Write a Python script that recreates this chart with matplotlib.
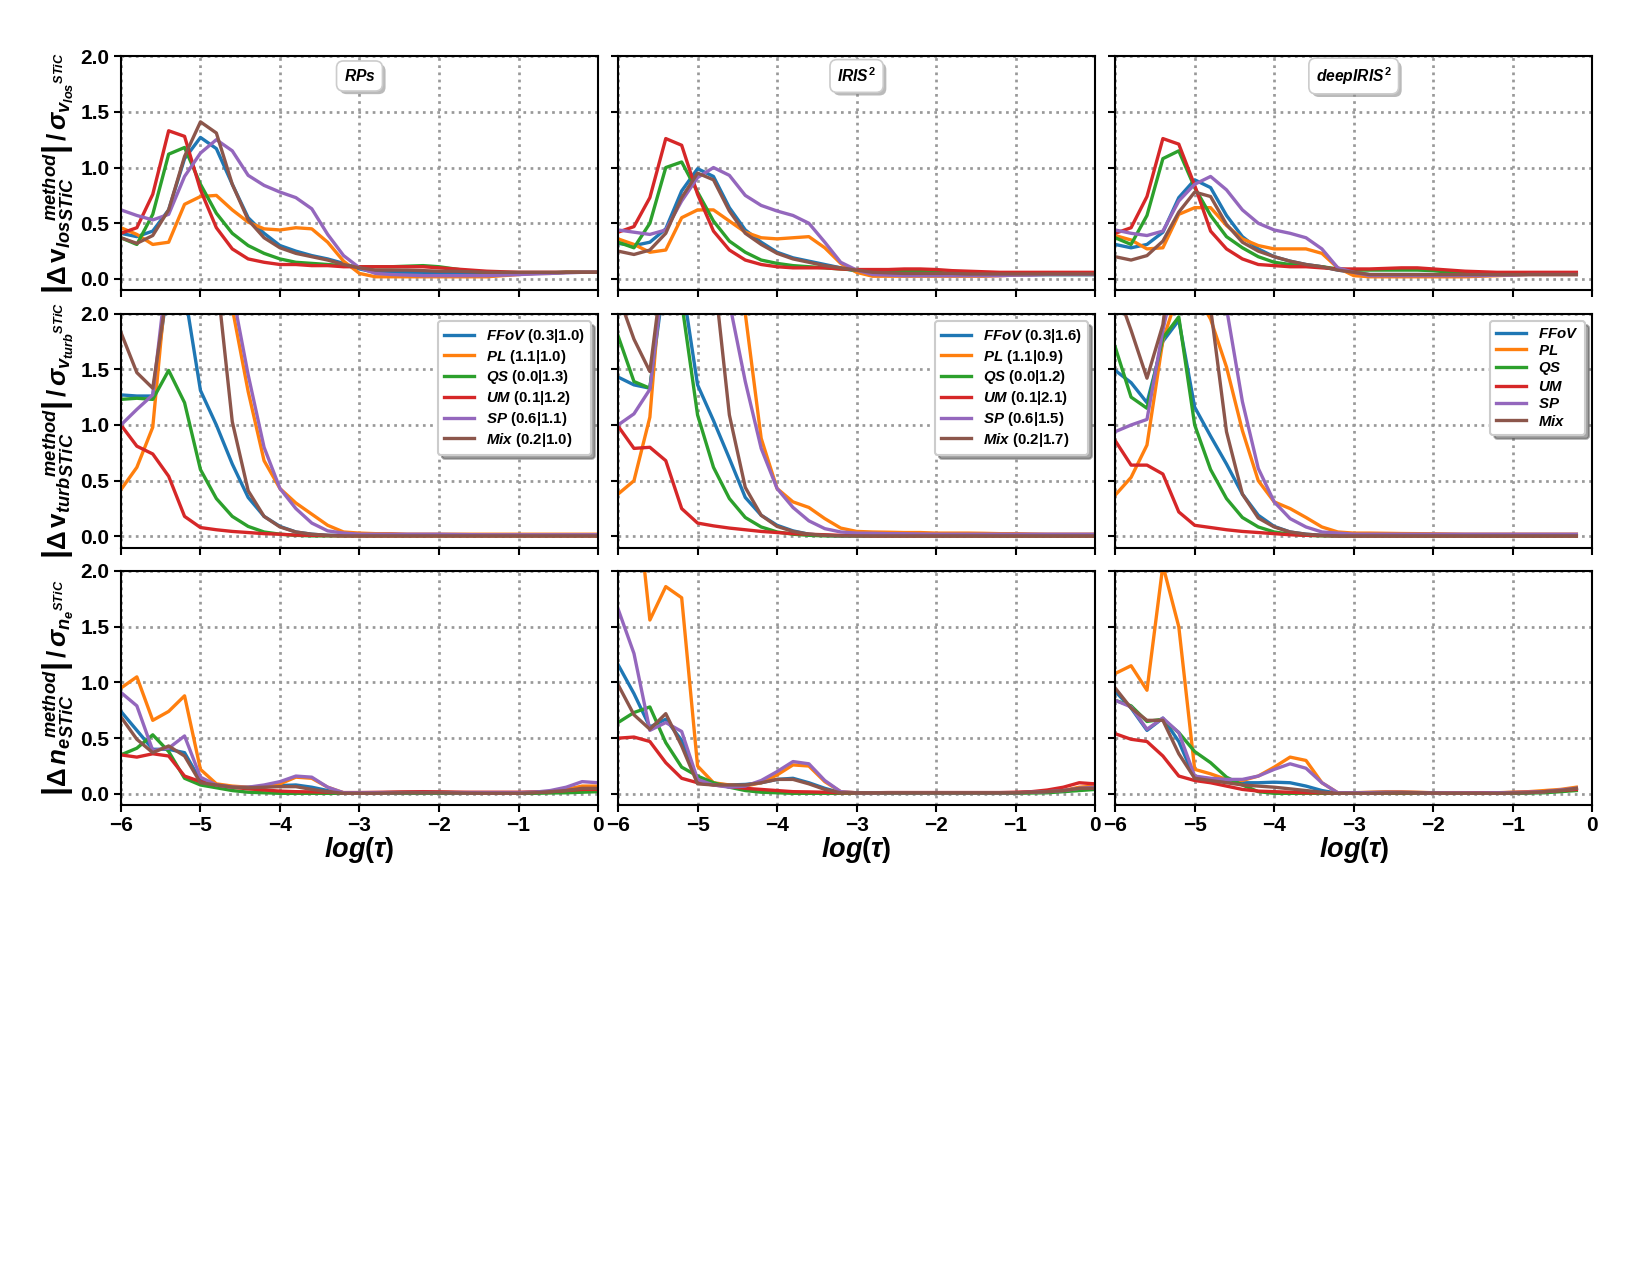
import matplotlib
matplotlib.use('Agg')
import matplotlib.pyplot as plt
import matplotlib.patheffects as pe

plt.rcParams['font.family'] = ['Liberation Sans Narrow', 'Liberation Sans', 'DejaVu Sans']
plt.rcParams['font.weight'] = 'bold'
plt.rcParams['mathtext.fontset'] = 'custom'
plt.rcParams['mathtext.rm'] = 'Liberation Sans:bold'
plt.rcParams['mathtext.it'] = 'Liberation Sans:italic:bold'
plt.rcParams['mathtext.bf'] = 'Liberation Sans:bold'
plt.rcParams['mathtext.sf'] = 'Liberation Sans:bold'

log_tau = [-6.0, -5.8, -5.6, -5.4, -5.2, -5.0, -4.8, -4.6, -4.4, -4.2, -4.0,
           -3.8, -3.6, -3.4, -3.2, -3.0, -2.8, -2.6, -2.4, -2.2, -2.0,
           -1.8, -1.6, -1.4, -1.2, -1.0, -0.8, -0.6, -0.4, -0.2, 0.0]

names = ['FFoV', 'PL', 'QS', 'UM', 'SP', 'Mix']
colors = ['tab:blue', 'tab:orange', 'tab:green', 'tab:red', 'tab:purple', 'tab:brown']
rps_stats = ['(0.3|1.0)', '(1.1|1.0)', '(0.0|1.3)', '(0.1|1.2)', '(0.6|1.1)', '(0.2|1.0)']
iris_stats = ['(0.3|1.6)', '(1.1|0.9)', '(0.0|1.2)', '(0.1|2.1)', '(0.6|1.5)', '(0.2|1.7)']
methods = [r'$RPs$', r'$IRIS^2$', r'$deepIRIS^2$']

# --- row 1: v_los ---
vlos_rps = {
    'FFoV': [0.41, 0.38, 0.43, 0.62, 1.08, 1.27, 1.17, 0.85, 0.55, 0.41, 0.30, 0.25, 0.21, 0.18, 0.14,
             0.09, 0.06, 0.06, 0.06, 0.06, 0.05, 0.05, 0.05, 0.05, 0.05, 0.05, 0.05, 0.055, 0.06, 0.06, 0.06],
    'PL': [0.46, 0.40, 0.31, 0.33, 0.67, 0.74, 0.75, 0.62, 0.51, 0.45, 0.44, 0.46, 0.45, 0.33, 0.16,
           0.05, 0.02, 0.02, 0.02, 0.02, 0.02, 0.02, 0.02, 0.02, 0.03, 0.04, 0.05, 0.05, 0.06, 0.06, 0.06],
    'QS': [0.37, 0.31, 0.58, 1.12, 1.18, 0.85, 0.59, 0.41, 0.30, 0.23, 0.18, 0.15, 0.14, 0.13, 0.12,
           0.11, 0.11, 0.11, 0.115, 0.12, 0.11, 0.09, 0.07, 0.06, 0.055, 0.055, 0.055, 0.055, 0.06, 0.06, 0.06],
    'UM': [0.41, 0.46, 0.76, 1.33, 1.28, 0.80, 0.46, 0.27, 0.18, 0.15, 0.13, 0.13, 0.12, 0.12, 0.11,
           0.11, 0.11, 0.11, 0.11, 0.11, 0.10, 0.09, 0.08, 0.07, 0.065, 0.06, 0.06, 0.06, 0.06, 0.06, 0.06],
    'SP': [0.62, 0.57, 0.53, 0.58, 0.92, 1.13, 1.25, 1.15, 0.93, 0.84, 0.78, 0.73, 0.63, 0.40, 0.21,
           0.10, 0.05, 0.04, 0.035, 0.03, 0.03, 0.03, 0.03, 0.03, 0.035, 0.04, 0.045, 0.05, 0.055, 0.06, 0.06],
    'Mix': [0.37, 0.32, 0.39, 0.62, 1.10, 1.41, 1.31, 0.85, 0.53, 0.37, 0.28, 0.23, 0.20, 0.17, 0.13,
            0.10, 0.08, 0.08, 0.08, 0.075, 0.07, 0.07, 0.065, 0.06, 0.06, 0.06, 0.06, 0.06, 0.06, 0.06, 0.06],
}
vlos_iris = {
    'FFoV': [0.32, 0.30, 0.33, 0.45, 0.79, 0.99, 0.92, 0.64, 0.44, 0.33, 0.24, 0.19, 0.16, 0.13, 0.10,
             0.07, 0.05, 0.045, 0.04, 0.04, 0.04, 0.04, 0.04, 0.04, 0.04, 0.04, 0.04, 0.04, 0.04, 0.04, 0.04],
    'PL': [0.36, 0.31, 0.24, 0.26, 0.55, 0.62, 0.62, 0.52, 0.42, 0.37, 0.36, 0.37, 0.38, 0.28, 0.14,
           0.06, 0.025, 0.025, 0.025, 0.025, 0.025, 0.025, 0.025, 0.025, 0.03, 0.035, 0.04, 0.045, 0.05, 0.05, 0.05],
    'QS': [0.33, 0.28, 0.50, 1.00, 1.05, 0.78, 0.52, 0.34, 0.24, 0.17, 0.14, 0.12, 0.11, 0.10, 0.09,
           0.08, 0.07, 0.07, 0.07, 0.07, 0.06, 0.05, 0.045, 0.04, 0.04, 0.04, 0.04, 0.04, 0.04, 0.04, 0.04],
    'UM': [0.42, 0.47, 0.73, 1.26, 1.20, 0.76, 0.43, 0.26, 0.17, 0.13, 0.11, 0.10, 0.10, 0.10, 0.09,
           0.085, 0.085, 0.085, 0.09, 0.09, 0.085, 0.075, 0.07, 0.065, 0.06, 0.06, 0.06, 0.06, 0.06, 0.06, 0.06],
    'SP': [0.44, 0.42, 0.40, 0.44, 0.70, 0.91, 1.00, 0.93, 0.75, 0.66, 0.61, 0.57, 0.50, 0.33, 0.15,
           0.08, 0.04, 0.035, 0.03, 0.03, 0.03, 0.03, 0.03, 0.03, 0.03, 0.035, 0.035, 0.04, 0.04, 0.04, 0.04],
    'Mix': [0.25, 0.22, 0.26, 0.41, 0.73, 0.95, 0.89, 0.61, 0.41, 0.31, 0.23, 0.18, 0.15, 0.12, 0.10,
            0.08, 0.06, 0.055, 0.05, 0.05, 0.05, 0.05, 0.045, 0.045, 0.045, 0.045, 0.045, 0.045, 0.045, 0.045, 0.045],
}
vlos_deep = {
    'FFoV': [0.31, 0.28, 0.31, 0.42, 0.73, 0.89, 0.82, 0.57, 0.38, 0.27, 0.20, 0.16, 0.13, 0.11, 0.08,
             0.06, 0.04, 0.04, 0.04, 0.04, 0.04, 0.04, 0.04, 0.04, 0.045, 0.045, 0.05, 0.05, 0.05, 0.05],
    'PL': [0.39, 0.35, 0.27, 0.28, 0.58, 0.64, 0.64, 0.48, 0.36, 0.30, 0.27, 0.27, 0.27, 0.23, 0.10,
           0.03, 0.02, 0.02, 0.02, 0.02, 0.02, 0.02, 0.02, 0.025, 0.03, 0.035, 0.04, 0.04, 0.04, 0.04],
    'QS': [0.37, 0.31, 0.57, 1.08, 1.15, 0.82, 0.57, 0.38, 0.28, 0.20, 0.15, 0.13, 0.12, 0.11, 0.09,
           0.08, 0.08, 0.08, 0.08, 0.08, 0.075, 0.06, 0.055, 0.05, 0.05, 0.05, 0.05, 0.05, 0.05, 0.05],
    'UM': [0.41, 0.46, 0.74, 1.26, 1.21, 0.84, 0.43, 0.27, 0.18, 0.13, 0.12, 0.11, 0.11, 0.10, 0.09,
           0.09, 0.09, 0.095, 0.10, 0.10, 0.09, 0.08, 0.07, 0.065, 0.06, 0.06, 0.06, 0.06, 0.06, 0.06],
    'SP': [0.44, 0.41, 0.39, 0.43, 0.70, 0.85, 0.92, 0.80, 0.62, 0.50, 0.44, 0.41, 0.37, 0.27, 0.10,
           0.06, 0.03, 0.03, 0.03, 0.03, 0.03, 0.03, 0.03, 0.03, 0.035, 0.035, 0.04, 0.04, 0.04, 0.04],
    'Mix': [0.20, 0.17, 0.21, 0.34, 0.60, 0.78, 0.74, 0.49, 0.33, 0.25, 0.20, 0.16, 0.13, 0.11, 0.08,
            0.06, 0.04, 0.04, 0.04, 0.04, 0.04, 0.04, 0.04, 0.04, 0.04, 0.04, 0.04, 0.04, 0.04, 0.04],
}

# --- row 2: v_turb ---
vturb_rps = {
    'FFoV': [1.27, 1.26, 1.26, 2.30, 2.20, 1.31, 1.00, 0.65, 0.35, 0.18, 0.09, 0.04, 0.02, 0.01, 0.01,
             0.01, 0.01, 0.01, 0.01, 0.01, 0.01, 0.01, 0.01, 0.01, 0.01, 0.01, 0.01, 0.01, 0.01, 0.01, 0.01],
    'PL': [0.42, 0.62, 0.98, 2.50, 3.50, 3.50, 3.00, 2.05, 1.30, 0.68, 0.43, 0.30, 0.20, 0.10, 0.04,
           0.03, 0.025, 0.025, 0.02, 0.02, 0.02, 0.02, 0.02, 0.02, 0.02, 0.02, 0.02, 0.02, 0.02, 0.02, 0.02],
    'QS': [1.23, 1.24, 1.23, 1.49, 1.20, 0.60, 0.34, 0.18, 0.09, 0.04, 0.02, 0.01, 0.005, 0.005, 0.005,
           0.005, 0.005, 0.005, 0.005, 0.005, 0.005, 0.005, 0.005, 0.005, 0.005, 0.005, 0.005, 0.005, 0.005, 0.005, 0.005],
    'UM': [1.00, 0.81, 0.74, 0.54, 0.18, 0.08, 0.06, 0.045, 0.035, 0.025, 0.02, 0.012, 0.01, 0.008, 0.006,
           0.005, 0.005, 0.005, 0.005, 0.005, 0.005, 0.005, 0.005, 0.005, 0.005, 0.005, 0.005, 0.005, 0.005, 0.005, 0.005],
    'SP': [1.00, 1.14, 1.27, 2.50, 3.50, 3.50, 3.20, 2.20, 1.45, 0.80, 0.43, 0.25, 0.12, 0.05, 0.03,
           0.02, 0.02, 0.02, 0.02, 0.02, 0.02, 0.018, 0.016, 0.015, 0.015, 0.015, 0.015, 0.015, 0.015, 0.015, 0.015],
    'Mix': [1.83, 1.47, 1.33, 2.30, 4.00, 4.00, 2.36, 1.03, 0.41, 0.18, 0.085, 0.04, 0.02, 0.01, 0.005,
            0.005, 0.005, 0.005, 0.005, 0.005, 0.005, 0.005, 0.005, 0.005, 0.005, 0.005, 0.005, 0.005, 0.005, 0.005, 0.005],
}
vturb_iris = {
    'FFoV': [1.43, 1.36, 1.33, 2.40, 2.30, 1.36, 1.04, 0.70, 0.35, 0.19, 0.10, 0.05, 0.02, 0.01, 0.005,
             0.005, 0.005, 0.005, 0.005, 0.005, 0.005, 0.005, 0.005, 0.005, 0.005, 0.005, 0.005, 0.005, 0.005, 0.005, 0.005],
    'PL': [0.38, 0.50, 1.07, 2.80, 3.50, 3.50, 3.50, 3.00, 2.00, 0.88, 0.43, 0.31, 0.26, 0.16, 0.075,
           0.045, 0.04, 0.038, 0.035, 0.035, 0.03, 0.03, 0.03, 0.028, 0.025, 0.025, 0.022, 0.02, 0.02, 0.02, 0.02],
    'QS': [1.80, 1.39, 1.33, 2.50, 2.10, 1.09, 0.62, 0.34, 0.17, 0.085, 0.04, 0.02, 0.01, 0.005, 0.005,
           0.005, 0.005, 0.005, 0.005, 0.005, 0.005, 0.005, 0.005, 0.005, 0.005, 0.005, 0.005, 0.005, 0.005, 0.005, 0.005],
    'UM': [0.99, 0.79, 0.80, 0.68, 0.25, 0.12, 0.095, 0.075, 0.06, 0.045, 0.035, 0.025, 0.02, 0.015, 0.01,
           0.008, 0.005, 0.005, 0.005, 0.005, 0.005, 0.005, 0.005, 0.005, 0.005, 0.005, 0.005, 0.005, 0.005, 0.005, 0.005],
    'SP': [1.00, 1.10, 1.32, 2.50, 3.50, 3.50, 3.00, 2.10, 1.39, 0.79, 0.43, 0.26, 0.14, 0.07, 0.04,
           0.03, 0.028, 0.025, 0.024, 0.022, 0.02, 0.02, 0.02, 0.02, 0.02, 0.02, 0.02, 0.02, 0.02, 0.02, 0.02],
    'Mix': [2.17, 1.77, 1.48, 2.60, 4.00, 4.00, 2.41, 1.09, 0.44, 0.19, 0.09, 0.045, 0.02, 0.01, 0.005,
            0.005, 0.005, 0.005, 0.005, 0.005, 0.005, 0.005, 0.005, 0.005, 0.005, 0.005, 0.005, 0.005, 0.005, 0.005, 0.005],
}
vturb_deep = {
    'FFoV': [1.49, 1.38, 1.20, 1.75, 1.94, 1.16, 0.90, 0.65, 0.38, 0.19, 0.09, 0.04, 0.02, 0.01, 0.005,
             0.005, 0.005, 0.005, 0.005, 0.005, 0.005, 0.005, 0.005, 0.005, 0.005, 0.005, 0.005, 0.005, 0.005, 0.005],
    'PL': [0.37, 0.53, 0.82, 1.76, 2.20, 2.20, 1.95, 1.52, 0.95, 0.50, 0.31, 0.25, 0.17, 0.085, 0.04,
           0.03, 0.03, 0.028, 0.026, 0.025, 0.024, 0.022, 0.02, 0.02, 0.02, 0.02, 0.02, 0.02, 0.02, 0.02],
    'QS': [1.70, 1.25, 1.15, 1.78, 1.97, 1.00, 0.60, 0.34, 0.17, 0.085, 0.04, 0.02, 0.01, 0.005, 0.005,
           0.005, 0.005, 0.005, 0.005, 0.005, 0.005, 0.005, 0.005, 0.005, 0.005, 0.005, 0.005, 0.005, 0.005, 0.005],
    'UM': [0.86, 0.64, 0.64, 0.56, 0.22, 0.10, 0.08, 0.06, 0.045, 0.035, 0.025, 0.015, 0.01, 0.008, 0.006,
           0.005, 0.005, 0.005, 0.005, 0.005, 0.005, 0.005, 0.005, 0.005, 0.005, 0.005, 0.005, 0.005, 0.005, 0.005],
    'SP': [0.94, 1.00, 1.05, 1.85, 2.50, 3.00, 2.60, 2.05, 1.21, 0.61, 0.31, 0.16, 0.085, 0.04, 0.03,
           0.02, 0.02, 0.02, 0.02, 0.02, 0.02, 0.02, 0.02, 0.02, 0.02, 0.02, 0.02, 0.02, 0.02, 0.02],
    'Mix': [2.25, 1.85, 1.42, 1.90, 3.00, 3.00, 2.05, 0.94, 0.38, 0.165, 0.085, 0.04, 0.02, 0.01, 0.005,
            0.005, 0.005, 0.005, 0.005, 0.005, 0.005, 0.005, 0.005, 0.005, 0.005, 0.005, 0.005, 0.005, 0.005, 0.005],
}

# --- row 3: n_e ---
ne_rps = {
    'FFoV': [0.74, 0.57, 0.40, 0.40, 0.37, 0.12, 0.08, 0.06, 0.06, 0.065, 0.075, 0.08, 0.06, 0.03, 0.01,
             0.01, 0.01, 0.012, 0.014, 0.015, 0.015, 0.012, 0.01, 0.01, 0.01, 0.01, 0.015, 0.02, 0.04, 0.06, 0.06],
    'PL': [0.95, 1.05, 0.66, 0.74, 0.88, 0.22, 0.09, 0.07, 0.06, 0.06, 0.09, 0.15, 0.14, 0.06, 0.01,
           0.01, 0.01, 0.012, 0.015, 0.015, 0.015, 0.012, 0.01, 0.01, 0.01, 0.01, 0.015, 0.02, 0.04, 0.07, 0.07],
    'QS': [0.35, 0.41, 0.53, 0.38, 0.14, 0.08, 0.055, 0.03, 0.015, 0.01, 0.005, 0.005, 0.005, 0.005, 0.005,
           0.005, 0.005, 0.005, 0.005, 0.005, 0.005, 0.005, 0.005, 0.005, 0.005, 0.005, 0.005, 0.008, 0.01, 0.015, 0.02],
    'UM': [0.35, 0.33, 0.36, 0.34, 0.16, 0.11, 0.08, 0.06, 0.045, 0.035, 0.025, 0.02, 0.018, 0.015, 0.012,
           0.012, 0.014, 0.016, 0.018, 0.02, 0.018, 0.016, 0.015, 0.015, 0.015, 0.015, 0.016, 0.02, 0.03, 0.04, 0.04],
    'SP': [0.91, 0.79, 0.39, 0.41, 0.52, 0.15, 0.08, 0.06, 0.06, 0.08, 0.11, 0.16, 0.15, 0.06, 0.01,
           0.01, 0.01, 0.01, 0.012, 0.012, 0.012, 0.01, 0.01, 0.01, 0.01, 0.01, 0.015, 0.03, 0.06, 0.11, 0.10],
    'Mix': [0.69, 0.49, 0.37, 0.43, 0.34, 0.10, 0.08, 0.06, 0.055, 0.06, 0.065, 0.065, 0.04, 0.02, 0.005,
            0.005, 0.005, 0.008, 0.01, 0.01, 0.01, 0.008, 0.006, 0.005, 0.005, 0.005, 0.01, 0.02, 0.03, 0.05, 0.05],
}
ne_iris = {
    'FFoV': [1.16, 0.90, 0.60, 0.67, 0.48, 0.12, 0.09, 0.08, 0.085, 0.10, 0.13, 0.14, 0.10, 0.05, 0.01,
             0.01, 0.01, 0.01, 0.01, 0.01, 0.01, 0.01, 0.01, 0.01, 0.01, 0.01, 0.015, 0.02, 0.03, 0.05, 0.06],
    'PL': [2.50, 2.90, 1.56, 1.86, 1.76, 0.25, 0.10, 0.08, 0.07, 0.10, 0.17, 0.26, 0.25, 0.11, 0.02,
           0.01, 0.01, 0.01, 0.01, 0.01, 0.01, 0.01, 0.01, 0.01, 0.01, 0.01, 0.015, 0.02, 0.03, 0.06, 0.07],
    'QS': [0.64, 0.73, 0.78, 0.46, 0.24, 0.16, 0.10, 0.06, 0.03, 0.015, 0.01, 0.005, 0.005, 0.005, 0.005,
           0.005, 0.005, 0.005, 0.005, 0.005, 0.005, 0.005, 0.005, 0.005, 0.005, 0.005, 0.008, 0.01, 0.02, 0.03, 0.04],
    'UM': [0.50, 0.51, 0.47, 0.28, 0.14, 0.10, 0.08, 0.065, 0.05, 0.04, 0.03, 0.02, 0.018, 0.015, 0.01,
           0.01, 0.01, 0.012, 0.012, 0.012, 0.012, 0.012, 0.012, 0.012, 0.012, 0.015, 0.02, 0.035, 0.06, 0.10, 0.09],
    'SP': [1.66, 1.26, 0.57, 0.64, 0.56, 0.13, 0.08, 0.06, 0.07, 0.12, 0.20, 0.29, 0.27, 0.12, 0.02,
           0.01, 0.01, 0.01, 0.01, 0.01, 0.01, 0.01, 0.01, 0.01, 0.01, 0.01, 0.015, 0.02, 0.03, 0.05, 0.06],
    'Mix': [0.98, 0.71, 0.58, 0.72, 0.43, 0.09, 0.08, 0.08, 0.08, 0.10, 0.13, 0.13, 0.09, 0.04, 0.01,
            0.01, 0.01, 0.01, 0.01, 0.01, 0.01, 0.01, 0.01, 0.01, 0.01, 0.01, 0.015, 0.02, 0.03, 0.05, 0.05],
}
ne_deep = {
    'FFoV': [0.92, 0.77, 0.57, 0.68, 0.47, 0.14, 0.12, 0.11, 0.10, 0.10, 0.105, 0.10, 0.07, 0.03, 0.005,
             0.005, 0.005, 0.008, 0.01, 0.01, 0.008, 0.005, 0.005, 0.005, 0.005, 0.008, 0.01, 0.02, 0.03, 0.05],
    'PL': [1.08, 1.15, 0.93, 2.05, 1.50, 0.22, 0.18, 0.13, 0.12, 0.16, 0.24, 0.33, 0.30, 0.10, 0.01,
           0.01, 0.015, 0.02, 0.02, 0.015, 0.01, 0.01, 0.01, 0.01, 0.01, 0.015, 0.02, 0.03, 0.04, 0.06],
    'QS': [0.84, 0.79, 0.65, 0.67, 0.55, 0.38, 0.28, 0.15, 0.08, 0.02, 0.005, 0.005, 0.005, 0.005, 0.005,
           0.005, 0.005, 0.005, 0.005, 0.005, 0.005, 0.005, 0.005, 0.005, 0.005, 0.005, 0.008, 0.01, 0.02, 0.03],
    'UM': [0.54, 0.49, 0.47, 0.34, 0.16, 0.12, 0.10, 0.07, 0.04, 0.025, 0.02, 0.015, 0.01, 0.01, 0.008,
           0.008, 0.008, 0.01, 0.01, 0.01, 0.008, 0.008, 0.008, 0.01, 0.01, 0.012, 0.015, 0.02, 0.03, 0.04],
    'SP': [0.84, 0.78, 0.58, 0.68, 0.55, 0.16, 0.14, 0.13, 0.13, 0.16, 0.22, 0.27, 0.23, 0.10, 0.01,
           0.01, 0.012, 0.015, 0.015, 0.012, 0.01, 0.008, 0.008, 0.008, 0.01, 0.012, 0.015, 0.02, 0.035, 0.05],
    'Mix': [0.95, 0.77, 0.66, 0.66, 0.36, 0.14, 0.12, 0.10, 0.08, 0.07, 0.06, 0.045, 0.03, 0.015, 0.005,
            0.005, 0.005, 0.008, 0.01, 0.01, 0.008, 0.005, 0.005, 0.005, 0.005, 0.008, 0.01, 0.02, 0.03, 0.05],
}

panels = [[vlos_rps, vlos_iris, vlos_deep],
          [vturb_rps, vturb_iris, vturb_deep],
          [ne_rps, ne_iris, ne_deep]]

ylabels = [
    r'$\left|\Delta\,\mathbf{v}_{los}{}^{method}_{STiC}\right|\,/\,\sigma_{v_{los}{}^{STiC}}$',
    r'$\left|\Delta\,\mathbf{v}_{turb}{}^{method}_{STiC}\right|\,/\,\sigma_{v_{turb}{}^{STiC}}$',
    r'$\left|\Delta\,n_{e}{}^{method}_{STiC}\right|\,/\,\sigma_{n_{e}{}^{STiC}}$',
]

fig, axes = plt.subplots(3, 3, figsize=(11, 8.5), dpi=150)
fig.subplots_adjust(left=0.0733, right=0.965, top=0.956, bottom=0.3686,
                    wspace=0.042, hspace=0.1)

for r in range(3):
    for c in range(3):
        ax = axes[r, c]
        data = panels[r][c]
        for k, name in enumerate(names):
            y = data[name]
            ax.plot(log_tau[:len(y)], y, color=colors[k], lw=1.6, label=name)
        ax.set_xlim(-6, 0)
        ax.set_ylim(-0.1, 2.0)
        ax.set_xticks([-6, -5, -4, -3, -2, -1, 0])
        ax.set_yticks([0.0, 0.5, 1.0, 1.5, 2.0])
        ax.grid(True, ls=':', color='0.6', lw=1.3)
        for sp in ax.spines.values():
            sp.set_linewidth(1.0)
        ax.tick_params(labelsize=10, width=1.0, length=3.5, pad=2)
        if c > 0:
            ax.tick_params(labelleft=False)
        else:
            ax.set_ylabel(ylabels[r], fontsize=12.5, labelpad=2)
        if r < 2:
            ax.tick_params(labelbottom=False)
        else:
            ax.set_xlabel(r'$log(\tau)$', fontsize=13, labelpad=0)

        if r == 0:
            t = ax.text(0.5, 0.915, methods[c], transform=ax.transAxes, ha='center', va='center',
                        fontsize=7.5, zorder=10,
                        bbox=dict(boxstyle='round,pad=0.45', fc='white', ec='0.8', lw=0.8))
            t.get_bbox_patch().set_path_effects([
                pe.SimplePatchShadow(offset=(1.5, -1.5), shadow_rgbFace='0.55', alpha=0.6),
                pe.Normal()])
        if r == 1:
            if c == 0:
                stats = rps_stats
            elif c == 1:
                stats = iris_stats
            else:
                stats = [''] * 6
            labels = [r'$%s$ %s' % (n, s) if s else r'$%s$' % n for n, s in zip(names, stats)]
            handles = ax.get_lines()
            ax.legend(handles, labels, loc='upper right', shadow=True, fancybox=True,
                      framealpha=1, edgecolor='0.8', prop={'size': 7.2, 'weight': 'bold'},
                      handlelength=2.0, labelspacing=0.18)

fig.savefig('out.png', dpi=150)
